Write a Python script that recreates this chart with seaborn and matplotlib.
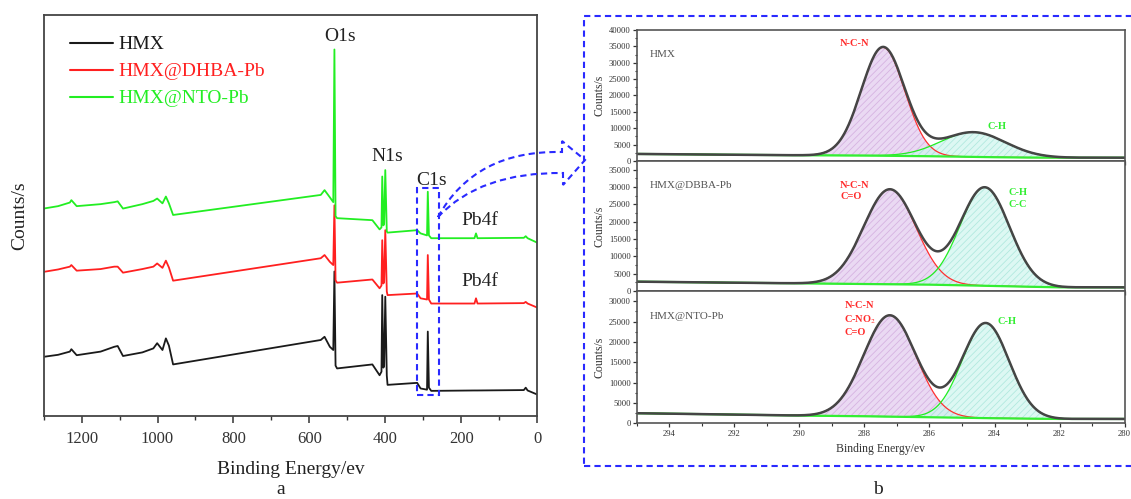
import numpy as np
import pandas as pd
import matplotlib
matplotlib.use("Agg")
import matplotlib.pyplot as plt
import seaborn as sns
from matplotlib.patches import Rectangle, PathPatch
from matplotlib.path import Path
from matplotlib.ticker import MultipleLocator

# ---- (a) XPS survey spectra, intensity in arbitrary units (0-100 of the axis) ----
energy = [1300, 1262, 1231, 1227, 1213, 1150, 1114, 1105, 1091, 1040, 1011, 1001, 987, 978, 970,
          959, 570, 560, 546, 537, 534, 531, 527, 434, 415, 410, 408, 405, 403, 400, 396, 394,
          316, 307, 290, 288, 285, 279, 165, 161, 157, 35, 30, 25, 0]
hmx = [14.7, 15.2, 16.0, 16.6, 15.1, 16.0, 17.2, 17.4, 14.9, 15.8, 16.8, 18.1, 16.4, 19.3, 17.5,
       12.8, 18.9, 19.7, 17.2, 16.4, 36.0, 12.5, 11.8, 12.8, 10.1, 11.0, 30.1, 12.0, 12.5, 29.7, 10.0, 7.7,
       8.2, 6.8, 6.5, 21.0, 7.0, 6.2, 6.3, 6.3, 6.3, 6.4, 7.0, 6.3, 5.3]
hmx_dhba = [35.9, 36.5, 37.2, 37.6, 36.2, 36.6, 37.2, 37.2, 35.7, 36.6, 37.2, 38.0, 36.9, 38.7, 37.0,
            33.7, 39.3, 40.1, 38.4, 37.6, 52.5, 33.8, 33.2, 34.0, 31.8, 32.5, 43.8, 33.0, 33.5, 46.3, 31.0, 30.1,
            30.5, 29.3, 29.0, 40.1, 29.0, 28.0, 28.0, 29.3, 28.0, 28.1, 28.4, 28.0, 27.0]
hmx_nto = [51.7, 52.3, 53.2, 53.8, 52.3, 52.8, 53.3, 53.5, 51.7, 52.8, 53.6, 54.2, 53.0, 54.7, 53.0,
           50.1, 55.1, 56.3, 54.5, 53.3, 91.4, 49.8, 49.3, 48.8, 46.5, 47.0, 59.7, 47.5, 48.0, 61.3, 46.0, 45.7,
           46.3, 45.5, 45.0, 55.9, 45.0, 44.3, 44.3, 45.5, 44.3, 44.4, 44.8, 44.3, 43.2]
survey_names = ["HMX", "HMX@DHBA-Pb", "HMX@NTO-Pb"]
survey_colors = ["#1a1a1a", "#ff2020", "#22ee22"]

peak_labels = ["O1s", "N1s", "C1s", "Pb4f", "Pb4f"]
peak_label_x = [520, 396, 279, 152, 152]
peak_label_y = [94.6, 64.6, 58.8, 48.8, 33.4]

# ---- (b) C1s peak fits: Gaussian components (centre eV, height counts/s, sigma eV) ----
c1s_names = ["HMX", "HMX@DBBA-Pb", "HMX@NTO-Pb"]
ncn_center = [287.43, 287.22, 287.22]
ncn_height = [33100, 27400, 24900]
ncn_sigma = [0.665, 0.80, 0.80]
ch_center = [284.65, 284.30, 284.27]
ch_height = [7550, 28400, 23350]
ch_sigma = [0.99, 0.76, 0.72]
bg_energy = [295, 292, 290, 288, 286, 285, 284, 283, 282, 280]
bg_hmx = [2150, 1900, 1750, 1650, 1450, 1300, 1150, 1050, 1000, 1000]
bg_dbba = [2700, 2400, 2220, 2020, 1830, 1650, 1450, 1250, 1060, 1060]
bg_nto = [2475, 2150, 1900, 1730, 1490, 1370, 1240, 1150, 1070, 1070]
c1s_ymax = [40000, 37500, 32500]

ncn_text = ["N-C-N", "N-C-N\nC=O", "N-C-N\nC-NO$_2$\nC=O"]
ncn_text_x = [288.75, 288.75, 288.62]
ncn_text_y = [37160, 31730, 30040]
ch_text = ["C-H", "C-H\nC-C", "C-H"]
ch_text_x = [284.21, 283.56, 283.91]
ch_text_y = [11820, 29630, 26190]

sns.set_style("ticks")
plt.rcParams["font.family"] = ["Liberation Serif", "DejaVu Serif"]
plt.rcParams["mathtext.fontset"] = "stix"
plt.rcParams["hatch.linewidth"] = 0.6

W, H = 1131, 499
fig = plt.figure(figsize=(W / 100, H / 100), dpi=100)

def fx(px):
    return px / W

def fy(py):
    return 1 - py / H

# ---------------- panel a ----------------
ax = fig.add_axes([0.0386, 0.1669, 0.4363, 0.803])
for name, vals, col in zip(survey_names, [hmx, hmx_dhba, hmx_nto], survey_colors):
    sns.lineplot(x=energy, y=vals, color=col, lw=1.3, label=name, ax=ax, errorbar=None)
ax.set_xlim(1300, 0)
ax.set_ylim(0, 100)
ax.set_yticks([])
ax.xaxis.set_major_locator(MultipleLocator(200))
ax.xaxis.set_minor_locator(MultipleLocator(100))
ax.tick_params(axis="x", which="major", direction="out", length=5, width=1.1, labelsize=12,
               colors="#333333", pad=6)
ax.tick_params(axis="x", which="minor", direction="out", length=3, width=1.0, colors="#333333")
for s in ax.spines.values():
    s.set_color("#444444")
    s.set_linewidth(1.3)
ax.set_xlabel("Binding Energy/ev", fontsize=14, color="#222222", labelpad=10)
ax.set_ylabel("Counts/s", fontsize=14, color="#222222", labelpad=11)
for lab, ex, ey in zip(peak_labels, peak_label_x, peak_label_y):
    ax.text(ex, ey, lab, fontsize=14, ha="center", va="center", color="#222222")

leg = ax.legend(loc="upper left", bbox_to_anchor=(0.053, 0.948), frameon=False, fontsize=14,
                handlelength=2.2, handletextpad=0.3, labelspacing=0.48, borderpad=0, borderaxespad=0)
for t, col in zip(leg.get_texts(), survey_colors):
    t.set_color(col)
for ln in leg.get_lines():
    ln.set_linewidth(1.5)

# dashed box around the C1s region
ax.add_patch(Rectangle((317, 5.2), 258 - 317, 56.8 - 5.2, fill=False, ec="#2a2aff", lw=1.5,
                       ls=(0, (3, 2)), zorder=5))

# ---------------- panel b ----------------
xs = np.linspace(295, 280, 751)
positions = [[0.5631, 0.6774, 0.4312, 0.2625],
             [0.5631, 0.4168, 0.4312, 0.2605],
             [0.5631, 0.1517, 0.4312, 0.2651]]
bgs = [bg_hmx, bg_dbba, bg_nto]
for i in range(3):
    bx = fig.add_axes(positions[i])
    bg = np.interp(xs, bg_energy[::-1], bgs[i][::-1])
    g1 = ncn_height[i] * np.exp(-(xs - ncn_center[i]) ** 2 / (2 * ncn_sigma[i] ** 2))
    g2 = ch_height[i] * np.exp(-(xs - ch_center[i]) ** 2 / (2 * ch_sigma[i] ** 2))
    df = pd.DataFrame({"E": xs, "bg": bg, "ncn": bg + g1, "ch": bg + g2, "fit": bg + g1 + g2})

    bx.fill_between(df["E"], df["bg"], df["ncn"], facecolor="#e4cdef", edgecolor="#cfa6dc",
                    hatch="/////", lw=0, alpha=0.75)
    bx.fill_between(df["E"], df["bg"], df["ch"], facecolor="#cff6ee", edgecolor="#9fe3d6",
                    hatch="/////", lw=0, alpha=0.7)
    sns.lineplot(data=df, x="E", y="ncn", color="#ff3030", lw=0.9, ax=bx, errorbar=None)
    sns.lineplot(data=df, x="E", y="ch", color="#22ee22", lw=0.9, ax=bx, errorbar=None)
    sns.lineplot(x=bg_energy, y=bgs[i], color="#33ee33", lw=1.6, ax=bx, errorbar=None)
    sns.lineplot(data=df, x="E", y="fit", color="#454545", lw=1.8, ax=bx, errorbar=None)

    bx.set_xlim(295, 280)
    bx.set_ylim(0, c1s_ymax[i])
    bx.xaxis.set_major_locator(MultipleLocator(2))
    bx.xaxis.set_minor_locator(MultipleLocator(1))
    bx.yaxis.set_major_locator(MultipleLocator(5000))
    bx.yaxis.set_minor_locator(MultipleLocator(2500))
    bx.tick_params(which="major", direction="out", length=3, width=0.9, labelsize=6.2,
                   colors="#333333", pad=1.5)
    bx.tick_params(which="minor", direction="out", length=1.8, width=0.8, colors="#333333")
    for s in bx.spines.values():
        s.set_color("#555555")
        s.set_linewidth(1.2)
    bx.set_ylabel("Counts/s", fontsize=8.5, color="#333333", labelpad=2)
    if i < 2:
        bx.tick_params(axis="x", labelbottom=False)
        bx.set_xlabel("")
    else:
        bx.set_xlabel("Binding Energy/ev", fontsize=8.5, color="#333333", labelpad=4)

    bx.text(0.026, 0.81, c1s_names[i], transform=bx.transAxes, fontsize=8, color="#555555",
            ha="left", va="center")
    bx.text(ncn_text_x[i], ncn_text_y[i], ncn_text[i], fontsize=7.5, color="#ff2a2a",
            fontweight="bold", ha="left", va="top", linespacing=1.35)
    bx.text(ch_text_x[i], ch_text_y[i], ch_text[i], fontsize=7.5, color="#33ee33",
            fontweight="bold", ha="left", va="top", linespacing=1.35)

# dashed frame around panel b
fig.add_artist(Rectangle((fx(584), fy(466)), 1.05 - fx(584), fy(16) - fy(466),
                         transform=fig.transFigure, fill=False, ec="#2a2aff", lw=1.5,
                         ls=(0, (3, 2)), clip_on=False))

# curved hollow arrow from the C1s box to panel b
pts = [(438, 217), (475, 150), (562, 152), (562, 141), (585, 160), (563, 185), (563, 173),
       (480, 172), (438, 217)]
codes = [Path.MOVETO, Path.CURVE3, Path.CURVE3, Path.LINETO, Path.LINETO, Path.LINETO,
         Path.LINETO, Path.CURVE3, Path.CURVE3]
arrow = Path([(fx(px), fy(py)) for px, py in pts], codes)
fig.add_artist(PathPatch(arrow, transform=fig.transFigure, fill=False, ec="#2a2aff", lw=1.5,
                         ls=(0, (3, 2)), clip_on=False))

fig.text(fx(281), fy(490), "a", fontsize=14, ha="center", va="center", color="#222222")
fig.text(fx(878), fy(490), "b", fontsize=14, ha="center", va="center", color="#222222")

fig.savefig("out.png", dpi=100)
